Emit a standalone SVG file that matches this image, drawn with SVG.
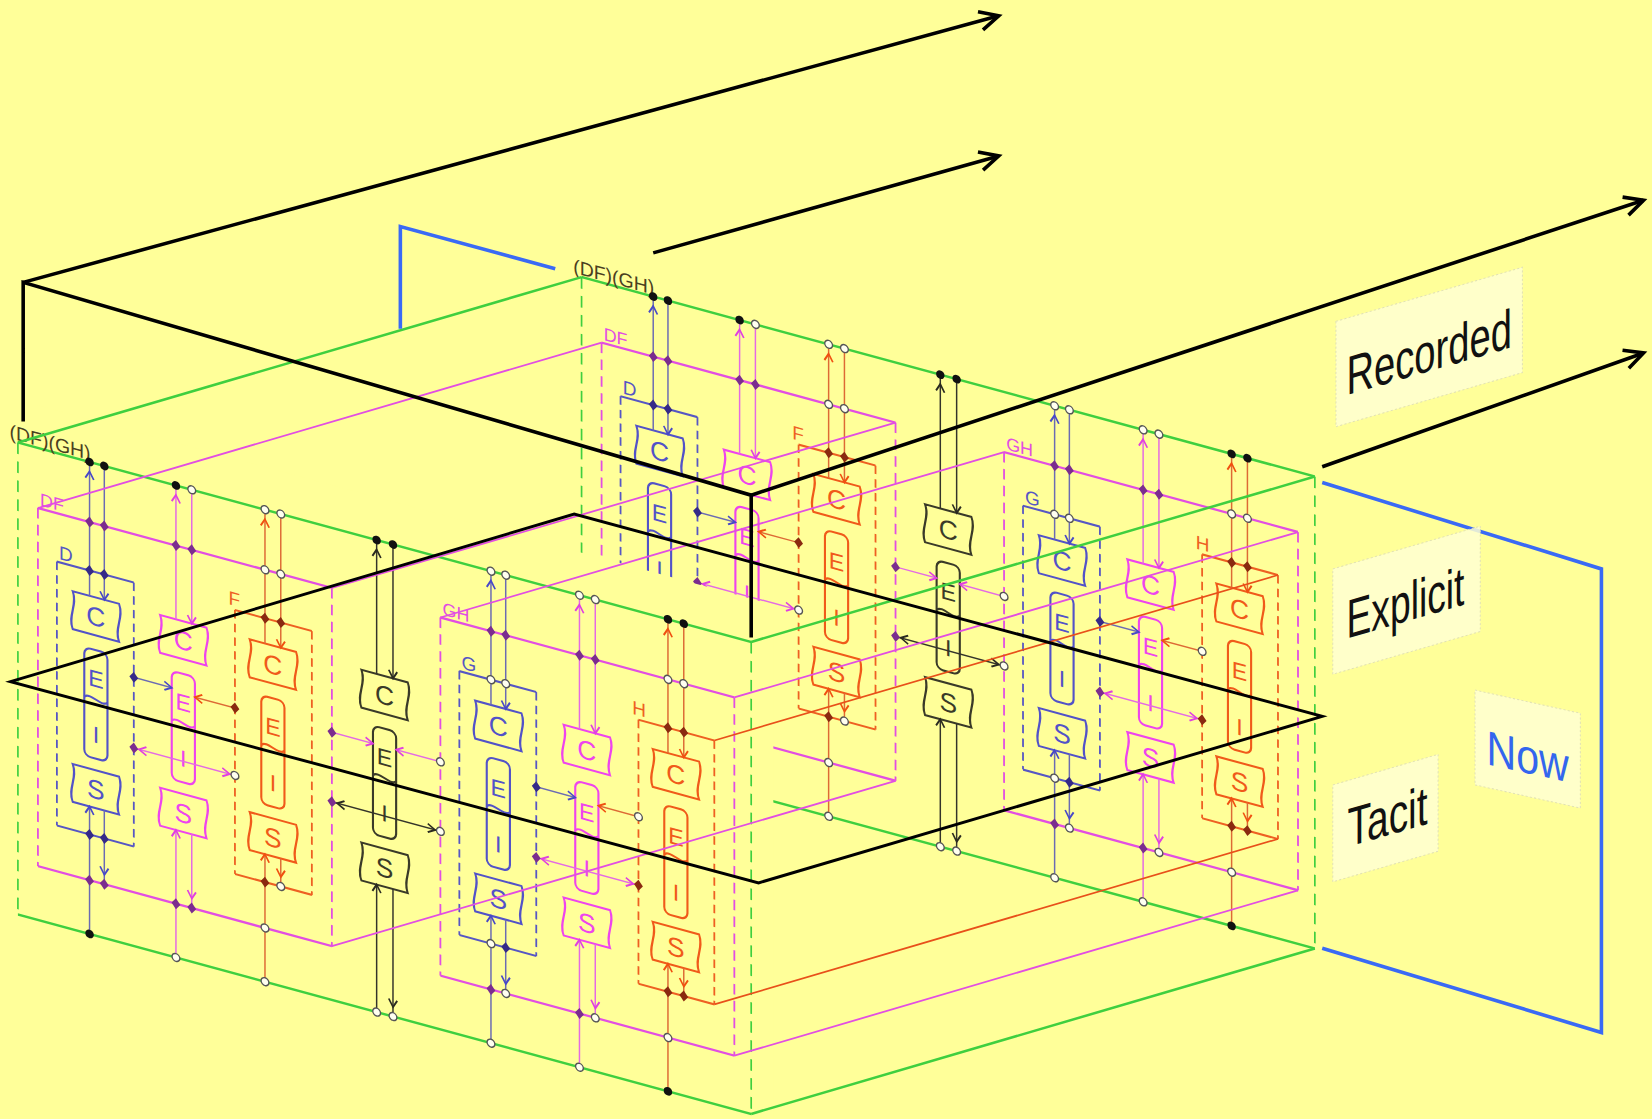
<svg xmlns="http://www.w3.org/2000/svg" xmlns:xlink="http://www.w3.org/1999/xlink" width="1652" height="1119" viewBox="0 0 1652 1119">
<defs>
<style>
.gs{fill:none;stroke:#3fcf3f;stroke-width:2.4}
.gd{fill:none;stroke:#3fcf3f;stroke-width:1.6;stroke-dasharray:11 7}
.ms{fill:none;stroke:#e24ee2;stroke-width:2.2}
.md{fill:none;stroke:#e24ee2;stroke-width:1.7;stroke-dasharray:10 6}
.bs{fill:none;stroke:#5656c4;stroke-width:2}
.bdd{fill:none;stroke:#5656c4;stroke-width:1.7;stroke-dasharray:8 5}
.os{fill:none;stroke:#ee6022;stroke-width:2}
.odd{fill:none;stroke:#ee6022;stroke-width:1.7;stroke-dasharray:8 5}
.bx{fill:none;stroke:currentColor;stroke-width:2}
.bt{fill:currentColor;font-family:'Liberation Sans',Arial,sans-serif;text-anchor:middle}
.lb{fill:none;stroke:#6b6bb3;stroke-width:1.4}
.lp{fill:none;stroke:#e46ae4;stroke-width:1.4}
.lo{fill:none;stroke:#dd6a35;stroke-width:1.4}
.lk{fill:none;stroke:#34342a;stroke-width:1.4}
.dg{fill:none;stroke:#3fcf3f;stroke-width:2.4}
.dm{fill:none;stroke:#e24ee2;stroke-width:1.7}
.do{fill:none;stroke:#e8501a;stroke-width:1.6}
.ax{fill:none;stroke:#000;stroke-width:3.4}
.pl{fill:none;stroke:#000;stroke-width:2.8}
.bl{fill:none;stroke:#3a6af5;stroke-width:3.4}
.lab{font-family:'Liberation Sans',Arial,sans-serif}
.sl{font-family:'Liberation Sans',Arial,sans-serif}
.pale{fill:#ffffd2;fill-opacity:0.85;stroke:#e2e2b4;stroke-width:1;stroke-dasharray:2 2}
</style>
<marker id="aB" markerUnits="userSpaceOnUse" orient="auto-start-reverse" overflow="visible" refX="0" refY="0" markerWidth="10" markerHeight="10"><path d="M-7,-4 L0,0 L-7,4" fill="none" stroke="#4848c8" stroke-width="1.7"/></marker>
<marker id="aB9" markerUnits="userSpaceOnUse" orient="auto-start-reverse" overflow="visible" refX="9" refY="0" markerWidth="10" markerHeight="10"><path d="M-7,-4 L0,0 L-7,4" fill="none" stroke="#4848c8" stroke-width="1.7"/></marker>
<marker id="aP" markerUnits="userSpaceOnUse" orient="auto-start-reverse" overflow="visible" refX="0" refY="0" markerWidth="10" markerHeight="10"><path d="M-7,-4 L0,0 L-7,4" fill="none" stroke="#e040e0" stroke-width="1.7"/></marker>
<marker id="aP9" markerUnits="userSpaceOnUse" orient="auto-start-reverse" overflow="visible" refX="9" refY="0" markerWidth="10" markerHeight="10"><path d="M-7,-4 L0,0 L-7,4" fill="none" stroke="#e040e0" stroke-width="1.7"/></marker>
<marker id="aP5" markerUnits="userSpaceOnUse" orient="auto-start-reverse" overflow="visible" refX="5" refY="0" markerWidth="10" markerHeight="10"><path d="M-7,-4 L0,0 L-7,4" fill="none" stroke="#e040e0" stroke-width="1.7"/></marker>
<marker id="aO" markerUnits="userSpaceOnUse" orient="auto-start-reverse" overflow="visible" refX="0" refY="0" markerWidth="10" markerHeight="10"><path d="M-7,-4 L0,0 L-7,4" fill="none" stroke="#f05010" stroke-width="1.7"/></marker>
<marker id="aO9" markerUnits="userSpaceOnUse" orient="auto-start-reverse" overflow="visible" refX="9" refY="0" markerWidth="10" markerHeight="10"><path d="M-7,-4 L0,0 L-7,4" fill="none" stroke="#f05010" stroke-width="1.7"/></marker>
<marker id="aK" markerUnits="userSpaceOnUse" orient="auto-start-reverse" overflow="visible" refX="0" refY="0" markerWidth="10" markerHeight="10"><path d="M-7,-4 L0,0 L-7,4" fill="none" stroke="#2a2a20" stroke-width="1.7"/></marker>
<marker id="aK9" markerUnits="userSpaceOnUse" orient="auto-start-reverse" overflow="visible" refX="9" refY="0" markerWidth="10" markerHeight="10"><path d="M-7,-4 L0,0 L-7,4" fill="none" stroke="#2a2a20" stroke-width="1.7"/></marker>
<marker id="aK5" markerUnits="userSpaceOnUse" orient="auto-start-reverse" overflow="visible" refX="5" refY="0" markerWidth="10" markerHeight="10"><path d="M-7,-4 L0,0 L-7,4" fill="none" stroke="#2a2a20" stroke-width="1.7"/></marker>
<marker id="aX" markerUnits="userSpaceOnUse" orient="auto" overflow="visible" refX="0" refY="0" markerWidth="10" markerHeight="10"><path d="M-18,-9 L0,0 L-18,9" fill="none" stroke="#000" stroke-width="3.4"/></marker>

<circle id="dk" r="4" fill="#111"/>
<circle id="op" r="3.7" fill="#fffff0" stroke="#555" stroke-width="1.3"/>
<path id="pp" d="M0,-5.2 L4.2,0 L0,5.2 L-4.2,0Z" fill="#7b2d8e"/>
<path id="bd" d="M0,-5.2 L4.2,0 L0,5.2 L-4.2,0Z" fill="#352a88"/>
<path id="rd" d="M0,-5.2 L4.2,0 L0,5.2 L-4.2,0Z" fill="#8a2a10"/>

<g id="stk">
<path class="bx" d="M-22,127 L22,127 C27,139 17,151 22,163 L-22,163 C-27,151 -17,139 -22,127 Z"/>
<text class="bt" x="0" y="154" font-size="25">C</text>
<rect class="bx" x="-11" y="177" width="22" height="103" rx="6"/>
<path class="bx" d="M-11,224 C-5,218 5,230 11,224"/>
<text class="bt" x="0" y="212" font-size="22">E</text>
<text class="bt" x="0" y="265" font-size="22">I</text>
<path class="bx" d="M-22,291 L22,291 C27,303 17,315 22,327 L-22,327 C-27,315 -17,303 -22,291 Z"/>
<text class="bt" x="0" y="318" font-size="25">S</text>
</g>

<g id="slice">
<path class="gs" d="M0,0H696M0,448H696"/>
<path class="gd" d="M0,0V448M696,0V448"/>
<path class="ms" d="M19,57H298M19,397H298M401,57H680M401,397H680"/>
<path class="md" d="M19,57V397M298,57V397M401,57V397M680,57V397"/>
<path class="bs" d="M37,103H110M37,353.5H110M419,103H492M419,353.5H492"/>
<path class="bdd" d="M37,103V353.5M110,103V353.5M419,103V353.5M492,103V353.5"/>
<path class="os" d="M206,103H279M206,353.5H279M589,103H661M589,353.5H661"/>
<path class="odd" d="M206,103V353.5M279,103V353.5M589,103V353.5M661,103V353.5"/>

<text class="sl" x="-8" y="-2" font-size="18.5" fill="#4a4020">(DF)(GH)</text>
<text class="sl" x="21" y="54" font-size="17" fill="#e24ee2">DF</text>
<text class="sl" x="403" y="54" font-size="17" fill="#e24ee2">GH</text>
<text class="sl" x="39" y="100" font-size="18" fill="#5656c4">D</text>
<text class="sl" x="421" y="100" font-size="18" fill="#5656c4">G</text>
<text class="sl" x="200" y="99" font-size="18" fill="#ee6022">F</text>
<text class="sl" x="583" y="99" font-size="18" fill="#ee6022">H</text>

<use href="#stk" x="74" color="#5252c8"/>
<use href="#stk" x="157" color="#ee44ee"/>
<use href="#stk" x="242" color="#f05a1a"/>
<use href="#stk" x="348" color="#3a3a28"/>
<use href="#stk" x="456" color="#5252c8"/>
<use href="#stk" x="540" color="#ee44ee"/>
<use href="#stk" x="624.5" color="#f05a1a"/>

<g class="lb">
<path d="M68,127V0" marker-end="url(#aB9)"/><path d="M82,0V127" marker-end="url(#aB)"/>
<path d="M68,448V327" marker-end="url(#aB)"/><path d="M82,327V397" marker-end="url(#aB9)"/>
<path d="M449,127V0" marker-end="url(#aB9)"/><path d="M463,0V127" marker-end="url(#aB)"/>
<path d="M449,448V327" marker-end="url(#aB)"/><path d="M463,327V397" marker-end="url(#aB9)"/>
<path d="M110,193H146" marker-end="url(#aB)"/>
<path d="M492,193H529" marker-end="url(#aB)"/>
</g>
<g class="lp">
<path d="M150,127V0" marker-end="url(#aP9)"/><path d="M165,0V127" marker-end="url(#aP)"/>
<path d="M150,448V327" marker-end="url(#aP)"/><path d="M165,327V397" marker-end="url(#aP9)"/>
<path d="M533,127V0" marker-end="url(#aP9)"/><path d="M548,0V127" marker-end="url(#aP)"/>
<path d="M533,448V327" marker-end="url(#aP)"/><path d="M548,327V397" marker-end="url(#aP9)"/>
<path d="M110,260H206" marker-start="url(#aP5)" marker-end="url(#aP5)"/>
<path d="M492,260H589" marker-start="url(#aP5)" marker-end="url(#aP5)"/>
<path d="M298,194H337" marker-end="url(#aP)"/>
<path d="M401,194H359" marker-end="url(#aP)"/>
</g>
<g class="lo">
<path d="M234.5,127V0" marker-end="url(#aO9)"/><path d="M249.5,0V127" marker-end="url(#aO)"/>
<path d="M234.5,448V327" marker-end="url(#aO)"/><path d="M249.5,327V353.5" marker-end="url(#aO9)"/>
<path d="M617,127V0" marker-end="url(#aO9)"/><path d="M632,0V127" marker-end="url(#aO)"/>
<path d="M617,448V327" marker-end="url(#aO)"/><path d="M632,327V353.5" marker-end="url(#aO9)"/>
<path d="M206,196H168" marker-end="url(#aO)"/>
<path d="M589,195H551" marker-end="url(#aO)"/>
</g>
<g class="lk">
<path d="M340.5,127V0" marker-end="url(#aK9)"/><path d="M356,0V127" marker-end="url(#aK)"/>
<path d="M340.5,448V327" marker-end="url(#aK)"/><path d="M356,327V448" marker-end="url(#aK9)"/>
<path d="M298,260H401" marker-start="url(#aK5)" marker-end="url(#aK5)"/>
</g>

<use href="#dk" x="68" y="0"/><use href="#dk" x="82" y="0"/>
<use href="#pp" x="68" y="57"/><use href="#pp" x="82" y="57"/>
<use href="#bd" x="68" y="103"/><use href="#bd" x="82" y="103"/>
<use href="#bd" x="68" y="353.5"/><use href="#bd" x="82" y="353.5"/>
<use href="#pp" x="68" y="397"/><use href="#pp" x="82" y="397"/>
<use href="#dk" x="68" y="448"/>

<use href="#dk" x="150" y="0"/><use href="#op" x="165" y="0"/>
<use href="#pp" x="150" y="57"/><use href="#pp" x="165" y="57"/>
<use href="#pp" x="150" y="397"/><use href="#pp" x="165" y="397"/>
<use href="#op" x="150" y="448"/>

<use href="#op" x="234.5" y="0"/><use href="#op" x="249.5" y="0"/>
<use href="#op" x="234.5" y="57"/><use href="#op" x="249.5" y="57"/>
<use href="#rd" x="234.5" y="103"/><use href="#rd" x="249.5" y="103"/>
<use href="#rd" x="234.5" y="353.5"/><use href="#op" x="249.5" y="353.5"/>
<use href="#op" x="234.5" y="397"/><use href="#op" x="234.5" y="448"/>

<use href="#dk" x="340.5" y="0"/><use href="#dk" x="356" y="0"/>
<use href="#op" x="340.5" y="448"/><use href="#op" x="356" y="448"/>

<use href="#op" x="449" y="0"/><use href="#op" x="463" y="0"/>
<use href="#pp" x="449" y="57"/><use href="#pp" x="463" y="57"/>
<use href="#op" x="449" y="103"/><use href="#op" x="463" y="103"/>
<use href="#op" x="449" y="353.5"/><use href="#bd" x="463" y="353.5"/>
<use href="#pp" x="449" y="397"/><use href="#op" x="463" y="397"/>
<use href="#op" x="449" y="448"/>

<use href="#op" x="533" y="0"/><use href="#op" x="548" y="0"/>
<use href="#pp" x="533" y="57"/><use href="#pp" x="548" y="57"/>
<use href="#pp" x="533" y="397"/><use href="#op" x="548" y="397"/>
<use href="#op" x="533" y="448"/>

<use href="#dk" x="617" y="0"/><use href="#dk" x="632" y="0"/>
<use href="#op" x="617" y="57"/><use href="#op" x="632" y="57"/>
<use href="#rd" x="617" y="103"/><use href="#rd" x="632" y="103"/>
<use href="#rd" x="617" y="353.5"/><use href="#rd" x="632" y="353.5"/>
<use href="#op" x="617" y="397"/><use href="#dk" x="617" y="448"/>

<use href="#bd" x="110" y="193"/><use href="#rd" x="206" y="196"/>
<use href="#pp" x="110" y="260"/><use href="#op" x="206" y="260"/>
<use href="#pp" x="298" y="194"/><use href="#op" x="401" y="194"/>
<use href="#pp" x="298" y="260"/><use href="#op" x="401" y="260"/>
<use href="#bd" x="492" y="193"/><use href="#op" x="589" y="195"/>
<use href="#pp" x="492" y="260"/><use href="#rd" x="589" y="260"/>
</g>
</defs>

<rect width="1652" height="1119" fill="#ffff99"/>
<g transform="scale(1.05357)">
<g id="slice-later">
<use href="#slice" transform="matrix(1 0.272 0 1 552 263)"/>
</g>
<polygon id="front-panel" points="0,375 734,574 734,1110 0,1110" fill="#ffff99"/>
<g id="slice-now">
<use href="#slice" transform="matrix(1 0.272 0 1 17 420)"/>
</g>

<g id="connectors">
<path class="dg" d="M17,420 L552,263 M713,609.3 L1248,452.3 M713,1057.3 L1248,900.3"/>
<path class="dm" d="M36,482.2 L571,325.2 M315,558.1 L850,401.1 M315,898.1 L850,741.1 M418,586.1 L953,429.1 M697,662 L1232,505 M697,1002 L1232,845"/>
<path class="do" d="M678,702.8 L1213,545.8 M678,953.3 L1213,796.3"/>
</g>

<g id="recorded-layer">
<path class="ax" d="M22,400 V268 L713,470 V605"/>
<path class="ax" d="M22,268 L948,15" marker-end="url(#aX)"/>
<path class="ax" d="M713,470 L1560,190" marker-end="url(#aX)"/>
<path class="ax" d="M620,240 L948,148" marker-end="url(#aX)"/>
<path class="ax" d="M1255,443 L1560,335" marker-end="url(#aX)"/>
</g>
<g id="explicit-tacit-plane">
<path class="pl" d="M10,647 L545,488 L1255,680 L720,838 Z"/>
</g>
<g id="now-plane">
<path class="bl" d="M380,312 V215 L527,255"/>
<path class="bl" d="M1255,458 L1520,540 V980 L1255,900"/>
</g>

<g id="label-recorded" transform="matrix(1 -0.29 0 1 1268 305)">
<rect class="pale" x="0" y="0" width="177" height="100"/>
<text class="lab" x="10" y="73" font-size="52" fill="#111" textLength="157" lengthAdjust="spacingAndGlyphs">Recorded</text>
</g>
<g id="label-explicit" transform="matrix(1 -0.29 0 1 1265 540)">
<rect class="pale" x="0" y="0" width="140" height="100"/>
<text class="lab" x="13" y="70" font-size="52" fill="#111" textLength="112" lengthAdjust="spacingAndGlyphs">Explicit</text>
</g>
<g id="label-tacit" transform="matrix(1 -0.29 0 1 1265 745)">
<rect class="pale" x="0" y="0" width="100" height="92"/>
<text class="lab" x="14" y="63" font-size="52" fill="#111" textLength="76" lengthAdjust="spacingAndGlyphs">Tacit</text>
</g>
<g id="label-now" transform="matrix(1 0.22 0 1 1400 655)">
<rect class="pale" x="0" y="0" width="100" height="90"/>
<text class="lab" x="11" y="68" font-size="46" fill="#3366ee" textLength="78" lengthAdjust="spacingAndGlyphs">Now</text>
</g>
</g>
</svg>
